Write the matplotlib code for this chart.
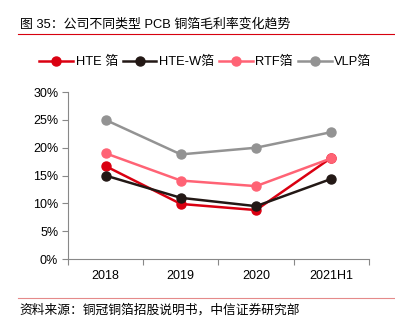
import numpy as np
import matplotlib.pyplot as plt
from matplotlib.lines import Line2D
from matplotlib.ticker import FuncFormatter

plt.rcParams['font.family'] = ['Liberation Sans', 'Noto Sans CJK SC', 'DejaVu Sans']

years = ['2018', '2019', '2020', '2021H1']
hte = [16.7, 9.9, 8.8, 18.2]
hte_w = [15.0, 11.0, 9.5, 14.4]
rtf = [19.0, 14.1, 13.1, 18.1]
vlp = [25.0, 18.8, 20.0, 22.8]

series = [('HTE 箔', hte, '#DA0011'),
          ('HTE-W箔', hte_w, '#231815'),
          ('RTF箔', rtf, '#FF6375'),
          ('VLP箔', vlp, '#939393')]

fig = plt.figure(figsize=(3.95, 3.23), dpi=100)
ax = fig.add_axes([0.172, 0.198, 0.762, 0.517])

x = np.arange(len(years))
for name, vals, col in series:
    ax.plot(x, vals, color=col, lw=1.8, marker='o', markersize=6.5, label=name)

ax.set_ylim(0, 30)
ax.set_yticks(np.arange(0, 31, 5))
ax.yaxis.set_major_formatter(FuncFormatter(lambda v, p: f'{v:.0f}%'))
ax.set_xlim(-0.5, 3.5)
ax.set_xticks(x)
ax.set_xticklabels(years)
ax.set_xticks(np.arange(-0.5, 4, 1), minor=True)
ax.tick_params(axis='x', which='major', length=0, pad=8, labelsize=9)
ax.tick_params(axis='x', which='minor', length=4, color='#888888', width=0.8)
ax.tick_params(axis='y', length=4, color='#888888', width=0.8, labelsize=9, pad=3)
for s in ['top', 'right']:
    ax.spines[s].set_visible(False)
for s in ['left', 'bottom']:
    ax.spines[s].set_color('#888888')
    ax.spines[s].set_linewidth(0.8)

ax.legend(loc='center', bbox_to_anchor=(0.52, 0.807), bbox_transform=fig.transFigure,
          ncol=4, frameon=False, fontsize=9.3, handlelength=2.6, handletextpad=0.2,
          columnspacing=0.4)

fig.text(0.05, 0.925, '图 35：公司不同类型 PCB 铜箔毛利率变化趋势', fontsize=9.3,
         va='center', ha='left')
fig.add_artist(Line2D([0.045, 1.0], [0.895, 0.895], color='#D7000F', lw=0.8,
                      transform=fig.transFigure))
fig.add_artist(Line2D([0.045, 1.0], [0.077, 0.077], color='#E58A8A', lw=0.8,
                      transform=fig.transFigure))
fig.text(0.05, 0.04, '资料来源：铜冠铜箔招股说明书，中信证券研究部', fontsize=9.2,
         va='center', ha='left')

fig.savefig('out.png', dpi=100)
